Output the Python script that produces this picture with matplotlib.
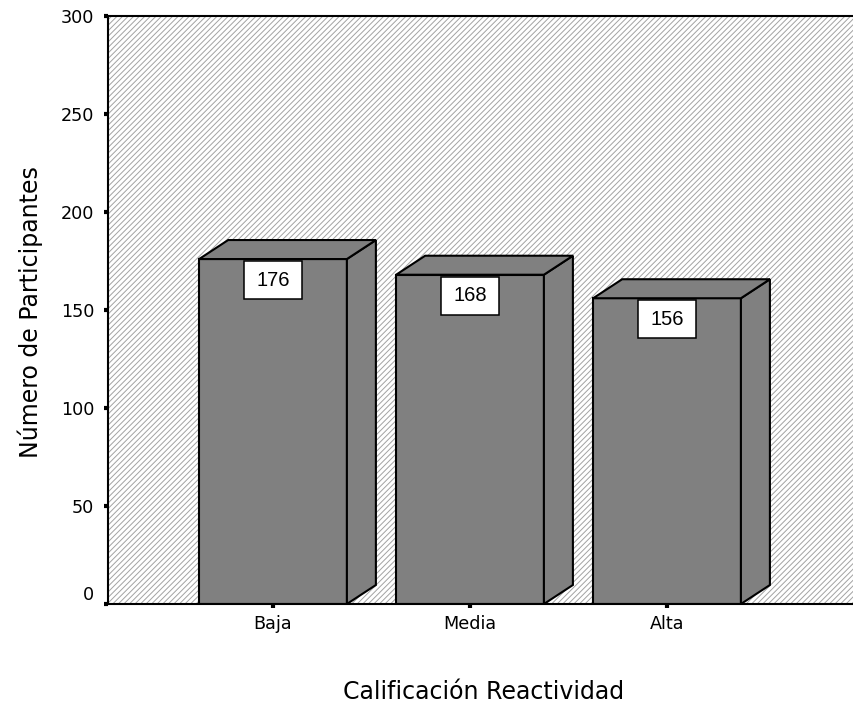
import matplotlib
matplotlib.use("Agg")
import matplotlib.pyplot as plt
from matplotlib.patches import Rectangle, Polygon
from matplotlib.transforms import ScaledTranslation

categories = ["Baja", "Media", "Alta"]
counts = [176, 168, 156]
y_ticks = [0, 50, 100, 150, 200, 250, 300]

plt.rcParams["hatch.linewidth"] = 0.7

W, H = 854, 708
fig = plt.figure(figsize=(W / 100, H / 100), dpi=100)
ax = fig.add_axes([108 / W, 1 - 604 / H, (W - 108) / W, 588 / H])

xmin, xmax = -0.8376, 2.949
ymin, ymax = 0, 300
ax.set_xlim(xmin, xmax)
ax.set_ylim(ymin, ymax)

# pixel -> data unit conversion for the 3D depth and label boxes
px_x = (xmax - xmin) / (W - 108)
px_y = (ymax - ymin) / 588.0

# hatched plot background
ax.add_patch(Rectangle((0, 0), 1, 1, transform=ax.transAxes, facecolor="white",
                       edgecolor="#a2a2a2", hatch="//////", lw=0, zorder=0))

bar_w = 0.75
dx = 29 * px_x
dy = 19 * px_y
face = "#808080"
lw_bar = 1.5

for i, (cat, v) in enumerate(zip(categories, counts)):
    xl = i - bar_w / 2
    xr = i + bar_w / 2
    # front face
    ax.add_patch(Rectangle((xl, 0), bar_w, v, facecolor=face, edgecolor="black",
                           lw=lw_bar, zorder=2, joinstyle="miter"))
    # side face
    ax.add_patch(Polygon([(xr, 0), (xr + dx, dy), (xr + dx, v + dy), (xr, v)],
                         closed=True, facecolor=face, edgecolor="black",
                         lw=lw_bar, zorder=2, joinstyle="miter"))
    # top face
    ax.add_patch(Polygon([(xl, v), (xl + dx, v + dy), (xr + dx, v + dy), (xr, v)],
                         closed=True, facecolor=face, edgecolor="black",
                         lw=lw_bar, zorder=2, joinstyle="miter"))
    # value label box
    bw, bh = 58 * px_x, 38 * px_y
    top = v - 2 * px_y
    ax.add_patch(Rectangle((i - bw / 2, top - bh), bw, bh, facecolor="white",
                           edgecolor="black", lw=1.1, zorder=3))
    ax.text(i, top - bh / 2, str(v), ha="center", va="center", zorder=4,
            fontsize=14.5, family="Liberation Sans")

ax.set_xticks(range(len(categories)))
ax.set_xticklabels(categories, fontsize=12.7)
ax.set_yticks(y_ticks)
ax.set_yticklabels([str(t) for t in y_ticks], fontsize=12.7)
ax.tick_params(axis="both", direction="out", length=3, width=3, color="black")
ax.tick_params(axis="y", pad=7)
ax.tick_params(axis="x", pad=5)

# lift the zero label clear of the baseline
zero_lbl = ax.yaxis.get_major_ticks()[0].label1
zero_lbl.set_transform(zero_lbl.get_transform() +
                       ScaledTranslation(0, 11 / 100, fig.dpi_scale_trans))

for side in ("left", "bottom", "top"):
    ax.spines[side].set_linewidth(1.5)
    ax.spines[side].set_zorder(5)
ax.spines["right"].set_visible(False)

fig.text(30 / W, 1 - 312 / H, "Número de Participantes", rotation=90,
         ha="center", va="center", fontsize=17)
fig.text(484 / W, 1 - 692 / H, "Calificación Reactividad",
         ha="center", va="center", fontsize=17)

fig.savefig("out.png", dpi=100)
